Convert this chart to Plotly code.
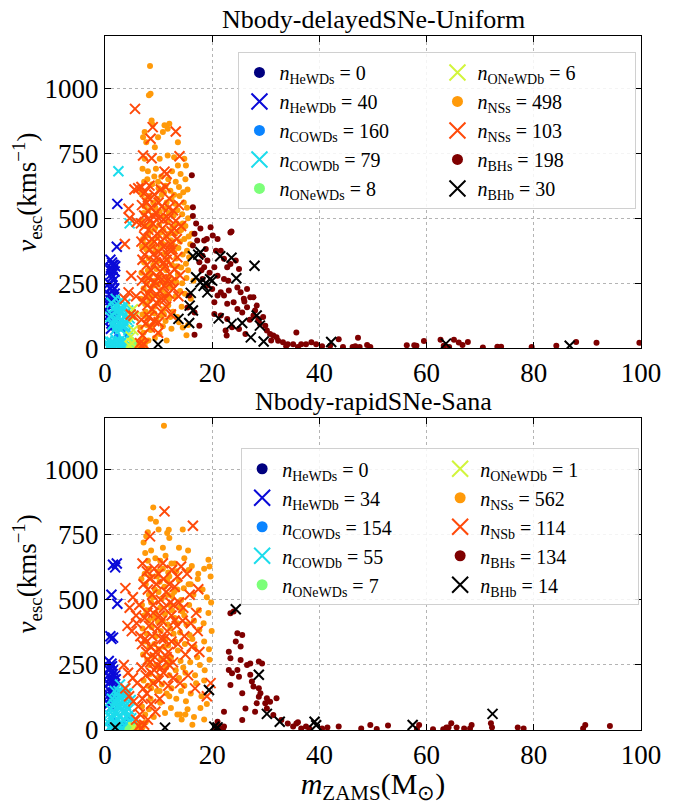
import plotly.graph_objects as go
from plotly.subplots import make_subplots

# panel titles
titles = ["Nbody-delayedSNe-Uniform", "Nbody-rapidSNe-Sana"]

# legend counts
top_counts = {"HeWDs": 0, "HeWDb": 40, "COWDs": 160, "COWDb": 79, "ONeWDs": 8,
              "ONeWDb": 6, "NSs": 498, "NSb": 103, "BHs": 198, "BHb": 30}
bot_counts = {"HeWDs": 0, "HeWDb": 34, "COWDs": 154, "COWDb": 55, "ONeWDs": 7,
              "ONeWDb": 1, "NSs": 562, "NSb": 114, "BHs": 134, "BHb": 14}

# ---------------- top panel: (m_ZAMS, v_esc) ----------------
top_hewds = []
top_hewdb = [(1.0, 340), (1.3, 330), (1.6, 320), (1.1, 310), (1.5, 300), (1.8, 295), (1.2, 285), (1.4, 275),
             (1.9, 315), (1.0, 300), (1.0, 230), (1.4, 220), (1.8, 210), (1.2, 200), (1.6, 195), (1.0, 185),
             (1.3, 175), (1.7, 170), (1.1, 160), (1.5, 150), (1.9, 140), (1.2, 130), (1.6, 120), (1.0, 110),
             (1.4, 200), (2.0, 190), (2.3, 555), (2.2, 390), (1.1, 75), (1.5, 90), (0.8, 250), (1.3, 240),
             (0.9, 205), (1.7, 230), (1.2, 95), (0.8, 165), (1.6, 260), (1.4, 320), (0.9, 130), (1.8, 180)]
top_cowds = [(3.5, 73), (2.8, 30), (4.2, 50), (1.5, 20), (3.0, 10), (2.2, 45), (4.0, 5)]
top_cowdb = [(2.5, 680), (4.6, 480), (2.0, 190), (3.0, 185), (1.2, 175), (3.8, 170), (2.5, 165), (1.6, 155),
             (3.3, 150), (4.3, 145), (2.0, 140), (2.9, 135), (1.3, 130), (3.7, 125), (2.4, 120), (4.6, 115),
             (1.8, 110), (3.1, 105), (2.6, 100), (4.0, 95), (1.4, 90), (2.2, 85), (3.4, 80), (2.8, 75),
             (1.9, 70), (4.4, 70), (3.6, 100), (2.7, 150), (3.5, 160), (1.0, 120), (4.8, 130), (2.1, 160),
             (3.0, 90), (1.6, 95), (4.1, 110), (0.6, 30), (1.2, 25), (1.8, 20), (2.4, 15), (3.0, 10),
             (3.6, 20), (4.2, 15), (0.9, 10), (1.5, 5), (2.1, 8), (2.7, 28), (3.3, 5), (3.9, 8),
             (4.5, 3), (1.1, 0), (2.0, 30), (2.9, 0), (0.5, 5), (3.5, 32), (4.0, 25)]
top_onewds = [(4.6, 10), (5.0, 25), (5.4, 5), (4.9, 35), (5.2, 15), (5.7, 20), (4.4, 3), (5.9, 8)]
top_onewdb = [(5.2, 150), (4.8, 45), (5.5, 120), (5.0, 20), (4.6, 10), (5.3, 70)]
top_nss = [(8.4, 1085), (8.5, 978), (8.2, 972), (8.7, 875), (8.9, 859), (11.1, 857), (12.0, 863), (11.7, 844),
           (7.4, 831), (10.8, 831), (7.1, 811), (9.9, 811), (7.7, 792), (9.3, 773), (13.6, 792), (7.4, 728),
           (10.2, 728), (11.7, 741), (12.9, 734), (14.8, 728), (15.1, 702), (13.6, 702),
           (7.0, 690), (8.0, 680), (9.5, 690), (10.5, 660), (11.8, 650), (12.5, 680), (13.2, 640), (14.1, 670),
           (15.0, 650), (15.4, 610), (7.3, 640), (8.8, 630), (10.0, 615), (11.3, 625), (12.2, 605), (13.8, 620),
           (14.6, 600), (9.2, 660), (6.8, 605),
           (6.9, 590), (7.6, 570), (8.3, 585), (9.0, 560), (9.8, 575), (10.6, 590), (11.5, 560), (12.4, 575),
           (13.1, 555), (13.9, 585), (14.7, 560), (15.3, 540), (7.2, 520), (8.1, 530), (8.9, 510), (10.2, 525),
           (11.0, 505), (11.9, 520), (12.8, 510), (13.5, 530), (14.4, 515), (15.5, 500),
           (6.8, 490), (7.5, 470), (8.4, 480), (9.3, 460), (10.1, 475), (10.9, 455), (11.7, 485), (12.6, 465),
           (13.4, 480), (14.2, 455), (15.0, 470), (15.6, 430), (7.1, 420), (8.0, 435), (8.8, 410), (9.7, 425),
           (10.5, 405), (11.4, 430), (12.3, 415), (13.1, 440), (14.0, 410), (14.8, 420),
           (6.9, 390), (7.7, 380), (8.6, 395), (9.4, 370), (10.3, 385), (11.2, 365), (12.0, 390), (12.9, 370),
           (13.7, 385), (14.5, 360), (15.3, 375), (7.3, 330), (8.2, 345), (9.0, 320), (9.9, 335), (10.8, 315),
           (11.6, 340), (12.5, 320), (13.3, 345), (14.2, 310), (15.1, 325), (15.7, 350),
           (6.8, 290), (7.6, 270), (8.5, 285), (9.3, 260), (10.2, 280), (11.0, 255), (11.9, 275), (12.8, 260),
           (13.6, 285), (14.4, 250), (15.2, 270), (7.2, 230), (8.0, 215), (8.9, 240), (9.7, 205), (10.6, 225),
           (11.4, 210), (12.3, 235), (13.2, 200), (14.0, 220), (14.9, 210),
           (6.7, 190), (7.5, 170), (8.3, 185), (9.2, 160), (10.0, 175), (10.9, 150), (11.8, 165), (12.7, 140),
           (13.5, 120), (14.3, 160), (7.0, 130), (7.9, 115), (8.7, 140), (9.6, 110), (10.5, 125), (11.3, 105),
           (12.2, 120), (6.6, 80), (7.2, 60), (7.8, 90), (8.5, 70), (9.3, 40), (10.2, 55), (11.5, 30),
           (13.8, 100), (14.5, 80), (15.2, 50), (6.8, 20), (7.4, 10), (8.1, 30), (6.5, 5), (7.0, 35),
           (15.5, 90), (16.0, 190), (16.5, 260), (16.2, 440), (6.4, 15), (7.6, 25),
           (7.9, 650), (9.9, 640), (11.0, 600), (12.9, 590), (7.4, 545), (9.4, 540), (11.2, 535), (13.0, 525),
           (8.5, 450), (10.4, 445), (12.0, 440), (13.8, 450), (7.4, 400), (9.1, 390), (10.9, 400), (12.7, 395),
           (8.0, 300), (9.6, 305), (11.4, 300), (13.4, 315), (7.8, 250), (9.9, 245), (11.6, 240), (13.3, 255),
           (8.6, 200), (10.3, 195), (12.0, 190), (7.6, 140), (9.2, 135), (11.0, 130), (8.9, 90), (10.8, 85),
           (12.4, 75), (7.7, 470), (14.5, 480), (15.9, 400), (15.5, 300)]
top_nsb = [(5.6, 920), (8.9, 850), (8.5, 805), (13.2, 833), (7.1, 741), (8.7, 730), (13.9, 738), (11.1, 679),
           (11.5, 670), (3.7, 401), (4.4, 536), (4.6, 500), (4.9, 279), (4.4, 215), (3.7, 190), (5.3, 125),
           (5.8, 200), (4.8, 130), (5.5, 610), (6.2, 615), (5.9, 485),
           (6.8, 620), (7.5, 600), (8.3, 625), (9.2, 590), (10.4, 610), (11.3, 620), (12.0, 575), (6.9, 550),
           (7.8, 560), (8.6, 540), (9.5, 520), (10.6, 545), (11.8, 500), (12.7, 530), (13.2, 490), (13.8, 550),
           (6.7, 480), (7.4, 470), (8.1, 455), (8.9, 480), (9.8, 440), (10.7, 460), (11.5, 430), (12.4, 450),
           (13.4, 420), (14.2, 470), (6.8, 410), (7.6, 395), (8.4, 380), (9.2, 410), (10.0, 370), (10.9, 390),
           (11.7, 360), (12.6, 380), (13.5, 350), (7.0, 340), (7.8, 320), (8.6, 300), (9.5, 330), (10.3, 295),
           (11.2, 315), (12.1, 285), (13.0, 305), (14.0, 280), (6.9, 260), (7.7, 245), (8.5, 230), (9.3, 255),
           (10.2, 220), (11.0, 240), (11.9, 210), (12.8, 230), (13.7, 200), (7.1, 180), (7.9, 165), (8.8, 150),
           (9.6, 175), (10.5, 140), (11.4, 160), (12.3, 130), (6.8, 110), (7.6, 95), (8.4, 80), (9.2, 105),
           (7.0, 50), (6.5, 20), (6.8, 10), (7.3, 15), (9.9, 60), (7.3, 430), (8.2, 500), (9.0, 360),
           (10.0, 500), (11.0, 330), (12.2, 400), (7.5, 280), (8.0, 210), (9.8, 270), (11.6, 260), (10.6, 190),
           (8.0, 580), (10.0, 560), (11.9, 540), (7.3, 510), (9.1, 505), (10.9, 495), (12.9, 460), (8.7, 420),
           (10.4, 410), (12.0, 380), (7.4, 360), (9.7, 350), (11.5, 340), (8.1, 270), (10.6, 265), (12.4, 255),
           (7.6, 200), (9.4, 200), (11.2, 190), (8.2, 120), (10.0, 100)]
top_bhs = [(16.2, 665), (16.4, 542), (16.4, 508), (19.7, 465), (23.6, 449), (23.4, 445), (20.1, 433),
           (16.7, 440), (17.2, 414), (18.5, 414), (16.4, 395), (18.2, 356), (18.8, 382), (17.6, 331),
           (18.5, 311), (19.1, 337), (20.7, 375), (21.6, 375), (22.2, 344), (22.8, 311), (23.4, 324),
           (25.0, 305), (24.4, 337), (20.4, 311), (21.0, 279), (22.2, 266), (21.6, 215), (21.0, 203),
           (22.2, 203), (23.1, 222), (24.7, 234), (25.3, 215), (26.5, 228), (27.1, 196), (27.7, 196),
           (25.9, 190), (24.0, 177), (22.8, 171), (24.7, 151), (25.6, 138), (26.5, 158), (28.3, 164),
           (28.0, 145), (27.7, 126), (28.6, 113), (28.9, 94), (29.9, 87), (30.2, 68), (30.8, 55),
           (31.4, 49), (32.0, 42), (32.3, 29), (33.2, 23), (34.1, 16), (35.1, 16), (35.7, 61),
           (36.6, 16), (37.5, 16), (38.5, 23), (39.4, 16), (20.4, 132), (21.6, 126), (22.8, 113),
           (23.7, 81), (22.5, 68), (25.0, 74), (26.2, 55), (22.7, 49), (16.7, 52), (17.6, 87),
           (18.2, 266), (19.1, 241), (20.0, 228), (20.4, 177), (16.7, 138), (15.4, 157), (15.7, 203),
           (17.0, 480), (17.8, 460), (19.0, 420), (21.0, 420), (18.0, 300), (19.5, 290), (23.0, 260),
           (26.0, 180), (27.0, 110), (29.5, 120), (31.0, 30), (33.8, 8), (36.0, 5), (40.5, 8),
           (42.0, 10), (43.6, 35), (44.4, 5), (46.2, 5), (46.7, 8), (47.2, 41), (47.5, 5), (48.9, 13),
           (49.5, 5), (56.3, 12), (57.7, 12), (58.1, 10), (59.5, 28), (62.6, 33), (63.2, 10),
           (64.2, 5), (65.1, 33), (66.0, 22), (66.7, 13), (67.7, 24), (70.5, 3), (73.2, 6),
           (73.9, 6), (79.6, 5), (84.2, 10), (87.9, 24), (91.7, 21), (99.7, 21)]
top_bhb = [(16.4, 354), (17.8, 369), (21.5, 354), (23.6, 348), (27.9, 317), (17.0, 273), (17.8, 254),
           (18.8, 251), (20.0, 260), (19.1, 215), (24.5, 269), (16.0, 213), (15.8, 164), (16.4, 145),
           (13.7, 113), (15.7, 97), (21.2, 115), (23.6, 93), (25.6, 97), (28.3, 126), (28.9, 87),
           (27.2, 42), (29.6, 26), (9.9, 15), (42.2, 24), (63.6, 18), (86.7, 10), (17.4, 360),
           (18.4, 240), (19.6, 265)]

# ---------------- bottom panel ----------------
bot_hewds = []
bot_hewdb = [(1.5, 635), (2.2, 640), (1.9, 625), (1.2, 520), (2.3, 485), (1.0, 360), (1.5, 355), (1.2, 350),
             (0.7, 265), (1.2, 255), (0.8, 230), (1.4, 215), (1.0, 200), (1.6, 190), (0.6, 180), (1.2, 170),
             (1.8, 160), (0.9, 150), (1.4, 140), (1.0, 125), (1.6, 115), (0.7, 100), (1.3, 90), (1.9, 210),
             (0.9, 240), (1.5, 230), (1.1, 185), (1.7, 175), (0.8, 135), (1.2, 110), (2.0, 195), (1.5, 160),
             (0.6, 210), (1.3, 245)]
bot_cowds = [(1.5, 40), (3.5, 20), (2.6, 10), (4.1, 45), (1.0, 15)]
bot_cowdb = [(2.8, 175), (3.6, 160), (1.8, 150), (4.2, 140), (2.4, 130), (3.2, 125), (1.3, 120), (4.8, 115),
             (2.0, 110), (3.0, 100), (3.9, 95), (1.5, 90), (2.6, 85), (4.4, 80), (3.4, 70), (1.9, 65),
             (2.9, 55), (4.0, 50), (1.2, 45), (2.3, 40), (3.5, 35), (4.7, 30), (1.7, 25), (2.7, 20),
             (3.8, 15), (5.0, 10), (0.8, 10), (2.1, 5), (3.1, 8), (4.3, 5), (1.5, 15), (2.5, 150),
             (3.3, 140), (4.0, 120), (1.0, 80), (2.2, 60), (3.7, 110), (0.6, 30), (5.3, 20), (4.6, 60),
             (2.0, 30), (3.0, 30), (3.6, 75), (2.5, 95), (1.4, 60), (4.1, 25), (1.0, 5), (5.5, 5),
             (2.8, 0), (3.3, 3), (0.7, 60), (4.9, 45), (2.2, 120), (3.9, 140), (1.7, 100)]
bot_onewds = [(4.5, 10), (5.0, 5), (5.5, 12), (4.8, 20), (5.2, 3), (5.8, 8), (4.2, 4)]
bot_onewdb = [(5.3, 10)]
bot_nss = [(11.0, 1169), (9.0, 855), (8.5, 812), (7.7, 744), (10.0, 770), (11.6, 757), (12.0, 738),
           (14.5, 770), (11.9, 769), (9.5, 800), (8.0, 760), (10.8, 700), (13.8, 700), (15.5, 690),
           (19.3, 654), (19.5, 628), (7.2, 720),
           (7.5, 680), (8.6, 690), (9.4, 660), (10.3, 650), (11.3, 670), (12.4, 640), (13.3, 610),
           (14.8, 660), (16.2, 630), (17.4, 600), (18.5, 620), (8.2, 620), (9.9, 610), (11.8, 605), (15.6, 615),
           (6.8, 580), (7.6, 560), (8.5, 590), (9.3, 540), (10.2, 570), (11.1, 550), (12.0, 590), (12.9, 530),
           (13.8, 575), (14.7, 545), (15.6, 560), (16.5, 520), (17.3, 580), (18.2, 540), (19.0, 510),
           (19.7, 590), (8.9, 510), (10.6, 505), (12.5, 515), (14.2, 500),
           (6.9, 480), (7.7, 460), (8.6, 490), (9.4, 450), (10.3, 470), (11.2, 445), (12.1, 480), (13.0, 430),
           (13.9, 470), (14.8, 440), (15.7, 480), (16.6, 420), (17.5, 460), (18.4, 410), (19.3, 450),
           (19.8, 490), (8.1, 420), (9.9, 415), (11.7, 405), (13.5, 410), (15.2, 405),
           (7.0, 390), (7.8, 370), (8.7, 395), (9.5, 360), (10.4, 380), (11.3, 350), (12.2, 390), (13.1, 340),
           (14.0, 375), (14.9, 330), (15.8, 365), (16.7, 320), (17.6, 385), (18.5, 340), (19.4, 310),
           (8.3, 320), (10.0, 310), (11.8, 325), (13.6, 305), (19.9, 380),
           (7.1, 290), (7.9, 270), (8.8, 285), (9.6, 250), (10.5, 275), (11.4, 240), (12.3, 280), (13.2, 230),
           (14.1, 265), (15.0, 220), (15.9, 260), (16.8, 210), (17.7, 250), (18.6, 230), (19.5, 270),
           (8.4, 215), (10.1, 205), (12.0, 210), (13.8, 200),
           (7.2, 190), (8.0, 170), (8.9, 185), (9.7, 150), (10.6, 175), (11.5, 140), (12.4, 160), (13.3, 120),
           (14.2, 150), (15.1, 110), (16.0, 140), (17.0, 180), (18.0, 130), (19.0, 100), (8.5, 120),
           (10.3, 105), (6.9, 90), (7.5, 60), (8.2, 80), (9.1, 50), (11.2, 65), (12.3, 85), (13.5, 60),
           (14.3, 40), (15.4, 80), (16.6, 50), (17.8, 85), (18.5, 40), (6.5, 20), (7.0, 10), (7.6, 30),
           (14.0, 60), (15.0, 60), (16.3, 20), (6.2, 8), (6.8, 25),
           (8.0, 650), (10.8, 620), (13.0, 640), (7.4, 600), (9.7, 590), (11.6, 575), (8.2, 520), (10.0, 530),
           (11.7, 520), (13.5, 540), (16.0, 560), (7.3, 440), (9.0, 430), (10.8, 420), (12.5, 460), (14.4, 455),
           (7.5, 340), (9.2, 330), (11.0, 320), (12.8, 370), (16.3, 350), (8.3, 250), (10.0, 240), (11.8, 260),
           (14.6, 240), (17.2, 280), (8.6, 160), (10.2, 150), (12.0, 130), (14.8, 170), (18.5, 190)]
bot_nsb = [(11.1, 840), (16.4, 785), (8.4, 744), (17.4, 541), (14.2, 628), (10.8, 641), (3.8, 545),
           (7.0, 640), (7.8, 610), (9.2, 620), (10.0, 600), (12.5, 615), (13.5, 590), (15.3, 600),
           (4.6, 470), (5.2, 510), (5.8, 440), (6.4, 480), (7.2, 560), (8.0, 540), (8.8, 520), (9.6, 560),
           (10.4, 500), (11.4, 530), (12.2, 490), (13.0, 550), (14.6, 470), (15.8, 520), (17.0, 450),
           (4.2, 400), (5.0, 380), (5.9, 410), (6.6, 360), (7.4, 430), (8.2, 400), (9.0, 450), (9.8, 390),
           (10.6, 420), (11.6, 380), (12.4, 440), (13.4, 400), (14.8, 360), (16.0, 410), (17.3, 380),
           (6.9, 330), (7.7, 300), (8.5, 320), (9.3, 280), (10.1, 310), (10.9, 270), (11.8, 300), (12.7, 260),
           (13.6, 330), (15.0, 290), (16.2, 320), (17.6, 300), (3.5, 250), (4.3, 220), (5.2, 200), (6.0, 180),
           (6.8, 240), (7.6, 210), (8.4, 260), (9.2, 230), (10.0, 190), (10.9, 220), (11.8, 170), (12.7, 200),
           (14.0, 180), (15.5, 210), (16.8, 160), (19.7, 180), (19.0, 130), (3.8, 160), (4.5, 130),
           (5.3, 110), (6.2, 90), (7.0, 120), (7.8, 140), (8.6, 100), (9.4, 70), (10.2, 120), (7.2, 160),
           (6.5, 60), (5.8, 40), (6.3, 15), (6.8, 5), (7.3, 20), (8.0, 40), (8.6, 220), (9.5, 300),
           (7.5, 350), (11.0, 350), (12.0, 250), (13.0, 420), (14.5, 420), (9.0, 180), (10.5, 240),
           (8.4, 580), (10.9, 580), (12.0, 560), (9.0, 480), (11.0, 470), (13.8, 490), (7.9, 450), (10.2, 440),
           (12.8, 480), (8.8, 360), (10.5, 350), (12.4, 340), (8.0, 270), (9.8, 250), (11.5, 280)]
bot_bhs = [(23.4, 449), (24.0, 455), (24.7, 372), (25.6, 365), (24.4, 340), (25.3, 321), (23.1, 301),
           (23.4, 276), (25.3, 269), (26.5, 250), (27.1, 256), (28.7, 263), (29.3, 256), (23.1, 231),
           (23.7, 218), (24.7, 231), (25.0, 205), (27.1, 212), (27.4, 186), (27.7, 167), (28.7, 160),
           (29.0, 141), (23.4, 173), (25.6, 141), (28.7, 128), (30.2, 122), (29.9, 103), (30.8, 109),
           (32.0, 122), (30.2, 83), (28.3, 103), (26.2, 83), (22.2, 70), (28.0, 70), (31.4, 58),
           (32.9, 38), (34.1, 25), (35.1, 13), (35.7, 25), (36.6, 6), (21.0, 32), (21.0, 13),
           (22.2, 13), (25.6, 38), (37.5, 13), (38.1, 6), (21.5, 5), (22.0, 3), (20.5, 8), (36.0, 30),
           (40.5, 6), (41.5, 10), (43.6, 13), (47.8, 6), (49.5, 19), (50.7, 4), (52.8, 17), (58.6, 19),
           (58.2, 4), (61.2, 3), (63.1, 3), (63.7, 10), (64.1, 10), (64.6, 26), (65.6, 10), (67.0, 6),
           (68.1, 6), (68.4, 19), (72.0, 26), (72.2, 10), (77.0, 10), (78.1, 6), (89.2, 6), (89.6, 19),
           (94.2, 15)]
bot_bhb = [(24.4, 464), (28.7, 212), (19.4, 154), (30.2, 62), (32.6, 32), (39.1, 32), (20.4, 13),
           (21.0, 10), (1.9, 10), (11.2, 9), (57.4, 19), (72.3, 62), (20.8, 5), (39.4, 18)]

# ---------------- styles (jet-like colours) ----------------
names = ["HeWDs", "HeWDb", "COWDs", "COWDb", "ONeWDs", "ONeWDb", "NSs", "NSb", "BHs", "BHb"]
colors = {"HeWDs": "#00007f", "HeWDb": "#0a0ad8", "COWDs": "#0a84ff", "COWDb": "#1cdcec",
          "ONeWDs": "#7cff79", "ONeWDb": "#d2f53c", "NSs": "#ff9a0a", "NSb": "#ff4a0a",
          "BHs": "#7f0000", "BHb": "#000000"}
# column-major 2x5 legend laid out row by row
ranks = {"HeWDs": 1, "ONeWDb": 2, "HeWDb": 3, "NSs": 4, "COWDs": 5,
         "NSb": 6, "COWDb": 7, "BHs": 8, "ONeWDs": 9, "BHb": 10}
top_data = dict(zip(names, [top_hewds, top_hewdb, top_cowds, top_cowdb, top_onewds, top_onewdb,
                            top_nss, top_nsb, top_bhs, top_bhb]))
bot_data = dict(zip(names, [bot_hewds, bot_hewdb, bot_cowds, bot_cowdb, bot_onewds, bot_onewdb,
                            bot_nss, bot_nsb, bot_bhs, bot_bhb]))
# the top panel labels the NS binaries "NSs" in the original
top_labels = dict((n, n) for n in names)
top_labels["NSb"] = "NSs"
bot_labels = dict((n, n) for n in names)

FONT = "Liberation Serif"

fig = make_subplots(rows=2, cols=1, vertical_spacing=0.1)


def add_panel(data, counts, labels, row, legend):
    for n in names:
        pts = data[n]
        if n.endswith("b"):
            marker = dict(symbol="x-thin", size=10, line=dict(width=2, color=colors[n]), color=colors[n])
            key = dict(symbol="x-thin", size=16, line=dict(width=2, color=colors[n]), color=colors[n])
        else:
            marker = dict(symbol="circle", size=6, color=colors[n], line=dict(width=0))
            key = dict(symbol="circle", size=11, color=colors[n], line=dict(width=0))
        if pts:
            fig.add_trace(go.Scatter(x=[p[0] for p in pts], y=[p[1] for p in pts], mode="markers",
                                     marker=marker, showlegend=False, hoverinfo="skip"), row=row, col=1)
        # legend key with enlarged symbol (as in the original legend)
        fig.add_trace(go.Scatter(x=[None], y=[None], mode="markers", marker=key,
                                 name="<i>n</i><sub>%s</sub> = %d" % (labels[n], counts[n]),
                                 legend=legend, legendrank=ranks[n]),
                      row=row, col=1)


add_panel(top_data, top_counts, top_labels, 1, "legend")
add_panel(bot_data, bot_counts, bot_labels, 2, "legend2")

axis_common = dict(showline=True, linecolor="black", linewidth=1.2, mirror="ticks", ticks="inside",
                   ticklen=6, tickwidth=1.2, tickcolor="black", showgrid=True, gridcolor="#b4b4b4",
                   griddash="dot", gridwidth=1, zeroline=False,
                   tickfont=dict(family=FONT, size=27, color="black"))
for r in (1, 2):
    fig.update_xaxes(range=[0, 100], tickvals=[0, 20, 40, 60, 80, 100], row=r, col=1, **axis_common)
    fig.update_yaxes(range=[0, 1200], tickvals=[0, 250, 500, 750, 1000], row=r, col=1,
                     title=dict(text="<i>v</i><sub>esc</sub>(kms<sup>−1</sup>)",
                                font=dict(family=FONT, size=27, color="black"), standoff=6),
                     **axis_common)
fig.update_xaxes(title=dict(text="<i>m</i><sub>ZAMS</sub>(M<sub>⊙</sub>)",
                            font=dict(family=FONT, size=30, color="black"), standoff=0), row=2, col=1)

legend_common = dict(orientation="h", xanchor="left", yanchor="top", entrywidth=153,
                     bgcolor="rgba(255,255,255,0.85)", bordercolor="#d0d0d0", borderwidth=1,
                     font=dict(family=FONT, size=20, color="black"), itemsizing="trace")
# the page body adds an 8 px offset, so the figure is 8 px smaller than the window
fig.update_layout(
    width=665, height=797,
    margin=dict(l=95, r=28, t=28, b=75),
    plot_bgcolor="white", paper_bgcolor="white",
    legend=dict(x=0.249, y=0.977, **legend_common),
    legend2=dict(x=0.254, y=0.406, **legend_common),
    annotations=[
        dict(text=titles[0], x=0.5, y=1.0, xref="paper", yref="paper", xanchor="center", yanchor="bottom",
             yshift=0, showarrow=False, font=dict(family=FONT, size=26, color="black")),
        dict(text=titles[1], x=0.5, y=0.45, xref="paper", yref="paper", xanchor="center", yanchor="bottom",
             yshift=0, showarrow=False, font=dict(family=FONT, size=26, color="black")),
    ],
)

fig.write_html("out.html")
